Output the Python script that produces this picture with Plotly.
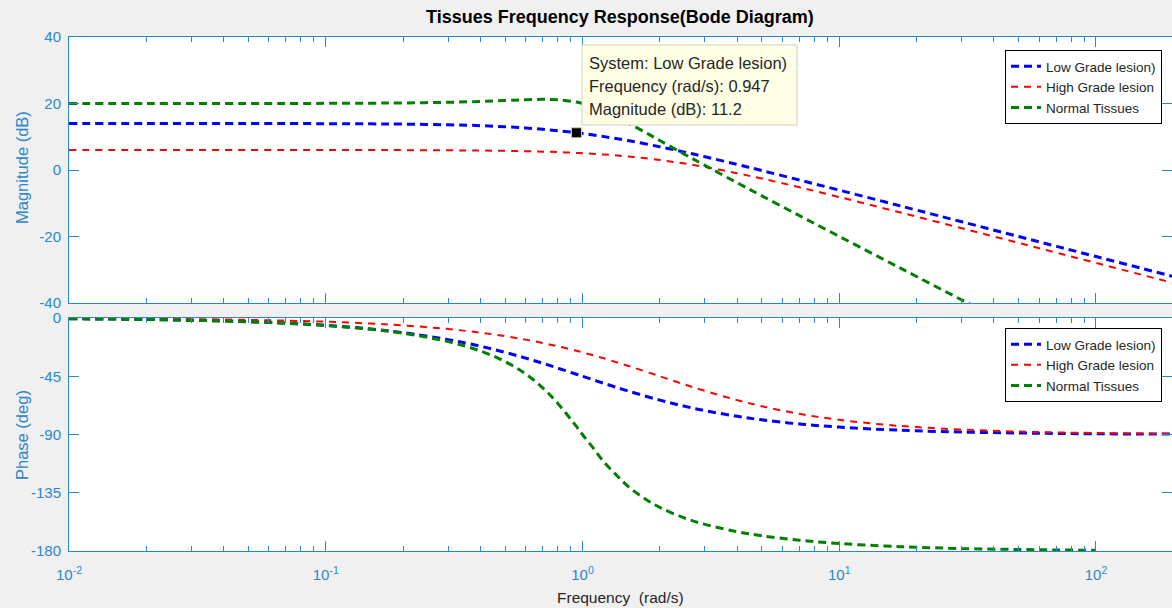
import plotly.graph_objects as go

# ---------------- data ----------------
freq = [0.01, 0.02, 0.05, 0.1, 0.15, 0.2, 0.3, 0.4, 0.5, 0.6, 0.7, 0.8, 0.947, 1.0, 1.2,
        1.5, 2, 2.5, 3, 4, 5, 7, 10, 15, 20, 30, 50, 70, 100, 150, 200]

low_mag = [13.98, 13.98, 13.97, 13.94, 13.88, 13.81, 13.60, 13.34, 13.01, 12.64, 12.25, 11.83,
           11.20, 10.97, 10.11, 8.86, 6.99, 5.38, 3.98, 1.68, -0.17, -3.01, -6.06, -9.56,
           -12.05, -15.57, -20.00, -22.92, -26.02, -29.54, -32.04]
low_phase = [-0.57, -1.15, -2.86, -5.71, -8.53, -11.31, -16.70, -21.80, -26.57, -30.96, -34.99,
             -38.66, -43.44, -45.00, -50.19, -56.31, -63.43, -68.20, -71.57, -75.96, -78.69,
             -81.87, -84.29, -86.19, -87.14, -88.09, -88.85, -89.18, -89.43, -89.62, -89.71]

high_mag = [6.02, 6.02, 6.02, 6.01, 6.00, 5.98, 5.92, 5.85, 5.76, 5.65, 5.52, 5.38, 5.14, 5.05,
            4.69, 4.08, 3.01, 1.93, 0.90, -0.97, -2.58, -5.20, -8.13, -11.56, -14.02, -17.52,
            -21.95, -24.87, -27.96, -31.48, -33.98]
high_phase = [-0.29, -0.57, -1.43, -2.86, -4.29, -5.71, -8.53, -11.31, -14.04, -16.70, -19.29,
              -21.80, -25.34, -26.57, -30.96, -36.87, -45.00, -51.34, -56.31, -63.43, -68.20,
              -74.05, -78.69, -82.41, -84.29, -86.19, -87.71, -88.36, -88.85, -89.24, -89.43]

freq_n = [0.01, 0.02, 0.05, 0.1, 0.15, 0.2, 0.3, 0.4, 0.5, 0.6, 0.7, 0.8, 0.947, 1.0, 1.1, 1.2,
          1.35, 1.5, 1.75, 2, 2.5, 3, 4, 5, 7, 10, 15, 20, 30, 50, 70, 100]
normal_mag = [20.00, 20.00, 20.01, 20.04, 20.10, 20.17, 20.37, 20.63, 20.90, 21.14, 21.25, 21.14,
              20.42, 20.00, 19.05, 17.87, 16.03, 14.19, 11.40, 8.86, 4.71, 1.37, -3.82, -7.79,
              -13.72, -19.96, -27.02, -32.03, -39.08, -47.96, -53.80, -60.00]
normal_phase = [-0.57, -1.15, -2.87, -5.77, -8.74, -11.77, -18.25, -25.46, -33.69, -43.15,
                -53.92, -65.77, -83.78, -90.00, -100.3, -110.14, -121.0, -129.81, -139.6,
                -146.31, -154.54, -159.44, -165.07, -168.23, -171.70, -174.23, -176.17,
                -177.13, -178.09, -178.85, -179.18, -179.43]

series_names = ["Low Grade lesion)", "High Grade lesion", "Normal Tissues"]
x_tickvals = [0.01, 0.1, 1, 10, 100]
x_ticktext = ["10<sup>-2</sup>", "10<sup>-1</sup>", "10<sup>0</sup>", "10<sup>1</sup>", "10<sup>2</sup>"]
mag_ticks = [-40, -20, 0, 20, 40]
mag_ticktext = ["-40", "-20", "0", "20", "40"]
phase_ticks = [-180, -135, -90, -45, 0]
phase_ticktext = ["-180", "-135", "-90", "-45", "0"]
marker_freq = [0.947]
marker_mag = [11.2]
tip_lines = ["System: Low Grade lesion)", "Frequency (rad/s): 0.947", "Magnitude (dB): 11.2"]

# ---------------- styling ----------------
AX = "#2b86cc"
FONT = "Liberation Sans, Arial, sans-serif"
W, H = 1172, 608
left_px, right_px = 69, 1172
top1, bot1 = 37, 303
top2, bot2 = 318, 551

minor_vals = [k * d for d in [0.01, 0.1, 1, 10, 100] for k in range(2, 10) if k * d < 200]

fig = go.Figure()

styles = [
    dict(color="#0000ff", width=3, dash="8px,5px"),
    dict(color="#ff0000", width=2, dash="7px,6px"),
    dict(color="#008000", width=3, dash="8px,5px"),
]
mags = [(freq, low_mag), (freq, high_mag), (freq_n, normal_mag)]
phases = [(freq, low_phase), (freq, high_phase), (freq_n, normal_phase)]

for name, st, (fx, m) in zip(series_names, styles, mags):
    fig.add_trace(go.Scatter(x=fx, y=m, mode="lines", name=name, line=dict(shape="spline", **st),
                             xaxis="x", yaxis="y", legend="legend"))
for name, st, (fx, p) in zip(series_names, styles, phases):
    fig.add_trace(go.Scatter(x=fx, y=p, mode="lines", name=name, line=dict(shape="spline", **st),
                             xaxis="x2", yaxis="y2", legend="legend2"))

fig.add_trace(go.Scatter(x=marker_freq, y=marker_mag, mode="markers", showlegend=False,
                         marker=dict(symbol="square", size=10, color="black",
                                     line=dict(color="#d8d0a0", width=1)),
                         xaxis="x", yaxis="y"))

xr = [-2, 2 + (right_px - 1096) / 256.6]
common_x = dict(type="log", range=xr, domain=[left_px / W, 1.0], showline=True, linecolor=AX,
                linewidth=1, mirror="ticks", ticks="inside", ticklen=10, tickcolor=AX,
                tickvals=x_tickvals, ticktext=x_ticktext, showgrid=False, zeroline=False,
                automargin=False, ticklabelstandoff=10,
                tickfont=dict(family=FONT, size=15, color=AX),
                minor=dict(tickvals=minor_vals, ticks="inside", ticklen=5, tickcolor=AX,
                           showgrid=False))
common_y = dict(showline=True, linecolor=AX, linewidth=1, mirror="ticks", ticks="inside",
                ticklen=10, tickcolor=AX, showgrid=False, zeroline=False, automargin=False,
                ticklabelstandoff=4,
                tickfont=dict(family=FONT, size=15, color=AX))

legend_common = dict(x=1162 / W, xanchor="right", yanchor="top", bgcolor="white",
                     bordercolor="black", borderwidth=1,
                     font=dict(family=FONT, size=13.5, color="#262626"),
                     itemwidth=30, tracegroupgap=0)

fig.update_layout(
    width=W, height=H,
    margin=dict(l=0, r=0, t=0, b=0, autoexpand=False),
    paper_bgcolor="#f0f0f0", plot_bgcolor="white",
    xaxis=dict(anchor="y", showticklabels=False, **common_x),
    yaxis=dict(domain=[1 - bot1 / H, 1 - top1 / H], range=[-40, 40], tickvals=mag_ticks,
               ticktext=mag_ticktext, anchor="x", **common_y),
    xaxis2=dict(anchor="y2", showticklabels=True, **common_x),
    yaxis2=dict(domain=[1 - bot2 / H, 1 - top2 / H], range=[-180, 0], tickvals=phase_ticks,
                ticktext=phase_ticktext, anchor="x2", **common_y),
    legend=dict(y=1 - 50 / H, **legend_common),
    legend2=dict(y=1 - 328 / H, **legend_common),
    showlegend=True,
)

fig.add_annotation(text="<b>Tissues Frequency Response(Bode Diagram)</b>", xref="paper", yref="paper",
                   x=620 / W, y=1 - 17 / H, xanchor="center", yanchor="middle", showarrow=False,
                   font=dict(family=FONT, size=18, color="black"))
fig.add_annotation(text="Magnitude (dB)", xref="paper", yref="paper", x=22 / W, y=1 - 168 / H,
                   xanchor="center", yanchor="middle", textangle=-90, showarrow=False,
                   font=dict(family=FONT, size=16.5, color=AX))
fig.add_annotation(text="Phase (deg)", xref="paper", yref="paper", x=22 / W, y=1 - 435 / H,
                   xanchor="center", yanchor="middle", textangle=-90, showarrow=False,
                   font=dict(family=FONT, size=16.5, color=AX))
fig.add_annotation(text="Frequency  (rad/s)", xref="paper", yref="paper", x=620 / W, y=1 - 597 / H,
                   xanchor="center", yanchor="middle", showarrow=False,
                   font=dict(family=FONT, size=15.5, color="#262626"))

# data tip box
fig.add_shape(type="rect", xref="paper", yref="paper", x0=582 / W, x1=797 / W,
              y0=1 - 125 / H, y1=1 - 45 / H, fillcolor="#ffffe6",
              line=dict(color="#cfcfc0", width=1))
for i, t in enumerate(tip_lines):
    fig.add_annotation(text=t, xref="paper", yref="paper", x=587 / W, y=1 - (63 + 23 * i) / H,
                       xanchor="left", yanchor="middle", showarrow=False,
                       font=dict(family=FONT, size=16.5, color="#262626"))

fig.write_html("out.html")
